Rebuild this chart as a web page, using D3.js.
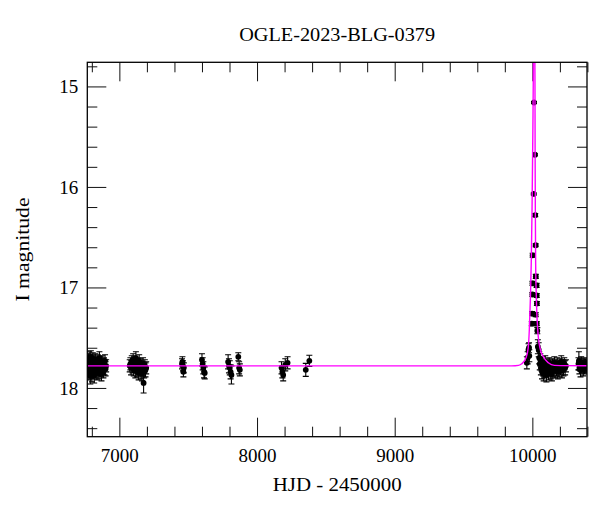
<!DOCTYPE html>
<html><head><meta charset="utf-8">
<script src="https://cdn.jsdelivr.net/npm/d3@7"></script>
<style>html,body{margin:0;padding:0;background:#fff;}svg{display:block;}</style>
</head><body>
<svg id="chart" width="600" height="512"></svg>
<script>
// ---- data (HJD-2450000, I mag, error) ----
const title = "OGLE-2023-BLG-0379";
const xLabel = "HJD - 2450000";
const yLabel = "I magnitude";
const xMajorTicks = [7000, 8000, 9000, 10000];
const yMajorTicks = [15, 16, 17, 18];

const season2014 = [
[6771,17.76,.06],[6773,17.82,.07],[6775,17.72,.06],[6777,17.79,.07],[6779,17.85,.07],[6781,17.70,.06],
[6783,17.77,.06],[6785,17.81,.07],[6787,17.74,.06],[6789,17.88,.08],[6791,17.78,.07],[6793,17.69,.06],
[6795,17.83,.07],[6797,17.75,.06],[6799,17.80,.07],[6801,17.86,.08],[6803,17.73,.06],[6805,17.79,.07],
[6807,17.71,.06],[6809,17.84,.07],[6811,17.77,.06],[6813,17.82,.07],[6815,17.74,.06],[6817,17.87,.08],
[6819,17.76,.06],[6822,17.80,.07],[6825,17.72,.06],[6828,17.83,.07],[6831,17.78,.06],[6834,17.75,.06],
[6837,17.85,.07],[6840,17.79,.07],[6843,17.73,.06],[6846,17.81,.07],[6849,17.76,.06],[6852,17.84,.07],
[6855,17.70,.06],[6858,17.78,.07],[6861,17.82,.07],[6864,17.75,.06],[6867,17.80,.07],[6870,17.86,.07],
[6873,17.74,.06],[6876,17.79,.07],[6880,17.77,.06],[6884,17.83,.07],[6888,17.76,.06],[6892,17.80,.07],
[6896,17.73,.06],[6900,17.81,.07],[6904,17.78,.06]];
const season2015 = [
[7075,17.78,.06],[7080,17.76,.06],[7085,17.80,.07],[7090,17.74,.06],[7095,17.79,.06],[7100,17.72,.06],
[7104,17.81,.07],[7108,17.77,.06],[7112,17.75,.06],[7116,17.83,.07],[7120,17.70,.06],[7124,17.78,.06],
[7128,17.82,.07],[7132,17.76,.06],[7136,17.79,.07],[7140,17.85,.07],[7144,17.73,.06],[7148,17.80,.07],
[7152,17.77,.06],[7156,17.84,.07],[7160,17.79,.06],[7164,17.86,.07],[7168,17.81,.07],[7172,17.76,.06],
[7176,17.95,.10],[7180,17.83,.07],[7185,17.78,.06],[7190,17.82,.07],[7195,17.80,.06]];
const seasons2016to2018 = [
[7455,17.76,.05],[7458,17.74,.05],[7462,17.78,.05],[7465,17.84,.05],[7468,17.80,.05],
[7600,17.72,.06],[7605,17.76,.06],[7610,17.80,.06],[7615,17.84,.06],[7620,17.85,.06],
[7790,17.74,.07],[7796,17.78,.07],[7802,17.80,.07],[7808,17.84,.07],[7814,17.87,.09],
[7864,17.69,.04],[7870,17.80,.06],[7875,17.82,.06],
[8178,17.80,.06],[8184,17.84,.06],[8190,17.87,.06],[8205,17.77,.06],[8222,17.75,.06],
[8354,17.82,.065],[8380,17.73,.055]];
const season2023 = [
[9960,17.75,.06],[9966,17.70,.06],[9972,17.62,.06],[9976,17.60,.05],[9978,17.68,.06],
[9996,17.36,.02],[9998,17.26,.02],[10000,17.07,.02],[10001,16.96,.02],[10002,16.68,.02],
[10010,16.07,.01],[10012,15.16,.01],[10019,15.68,.01],[10021,16.28,.015],[10024,16.58,.015],
[10025,16.89,.02],[10031,16.98,.02],[10032,17.08,.02],[10033,17.16,.02],[10024,17.27,.02],
[10032,17.36,.02],[10036,17.43,.03],
[10040,17.59,.07],[10046,17.62,.07],[10050,17.70,.06],[10054,17.76,.06],[10058,17.72,.06],
[10062,17.80,.07],[10066,17.77,.06],[10070,17.84,.07],[10074,17.75,.06],[10078,17.81,.07],
[10082,17.86,.07],[10086,17.78,.06],[10090,17.83,.07],[10094,17.74,.06],[10098,17.80,.07],
[10102,17.87,.07],[10106,17.77,.06],[10110,17.82,.07],[10114,17.79,.06],[10118,17.85,.07],
[10122,17.76,.06],[10126,17.81,.07],[10130,17.78,.06],[10134,17.84,.07],[10138,17.80,.06],
[10142,17.86,.07],[10146,17.77,.06],[10150,17.82,.07],[10155,17.79,.06],[10160,17.75,.06],
[10165,17.83,.07],[10170,17.78,.06],[10175,17.81,.07],[10180,17.76,.06],[10185,17.84,.07],
[10190,17.79,.06],[10195,17.82,.07],[10200,17.77,.06],[10205,17.80,.07],[10210,17.74,.06],
[10215,17.83,.07],[10220,17.78,.06],[10226,17.81,.07],[10232,17.76,.06],[10238,17.80,.07],
[10244,17.78,.06]];
const season2024 = [
[10335,17.76,.06],[10338,17.73,.09],[10342,17.80,.06],[10346,17.77,.06],[10350,17.82,.07],
[10355,17.75,.06],[10360,17.79,.06],[10365,17.78,.06],[10370,17.81,.07],[10375,17.76,.06],
[10380,17.80,.06],[10385,17.77,.06],[10390,17.79,.06],[10395,17.78,.06]];

// model curve (HJD, mag)
const modelHJD = [6700, 9850, 9900, 9923, 9954, 9970, 9978, 9986, 9992, 9998, 10004, 10007, 10009, 10013,
                  10017, 10019, 10020, 10022, 10024, 10029, 10039, 10055, 10080, 10116, 10160, 10450];
const modelMag = [17.78, 17.78, 17.775, 17.76, 17.70, 17.60, 17.42, 17.10, 16.76, 16.20, 15.40, 14.90, 14.40, 13.90,
                  14.40, 14.90, 15.60, 16.30, 16.76, 17.10, 17.42, 17.60, 17.69, 17.75, 17.775, 17.78];

// ---- layout ----
const L = 87.3, R = 587, T = 62.3, B = 436.7;
const svg = d3.select("#chart");
const x = d3.scaleLinear().domain([6767, 10397]).range([L, R]);
const y = d3.scaleLinear().domain([14.76, 18.485]).range([T, B]);
const font = "'Liberation Serif', 'Times New Roman', serif";

svg.append("defs").append("clipPath").attr("id", "clip")
  .append("rect").attr("x", L).attr("y", T).attr("width", R - L).attr("height", B - T);

const xMinor = d3.range(6800, 10401, 200).filter(v => v % 1000 !== 0);
const yMinor = d3.range(14.8, 18.49, 0.2).map(v => +v.toFixed(1)).filter(v => Math.abs(v - Math.round(v)) > 1e-6);

function styleAxis(g) {
  g.select(".domain").remove();
  g.selectAll(".tick line").attr("stroke", "#111").attr("stroke-width", 1);
  g.selectAll("text").attr("font-family", font).attr("font-size", 19).attr("fill", "#000");
}
// bottom
svg.append("g").attr("transform", `translate(0,${B})`)
  .call(d3.axisBottom(x).tickValues(xMajorTicks).tickSize(-19).tickPadding(12).tickFormat(d3.format("d")))
  .call(styleAxis);
svg.append("g").attr("transform", `translate(0,${B})`)
  .call(d3.axisBottom(x).tickValues(xMinor).tickSize(-10).tickFormat("")).call(styleAxis);
// top
svg.append("g").attr("transform", `translate(0,${T})`)
  .call(d3.axisTop(x).tickValues(xMajorTicks).tickSize(-19).tickFormat("")).call(styleAxis);
svg.append("g").attr("transform", `translate(0,${T})`)
  .call(d3.axisTop(x).tickValues(xMinor).tickSize(-10).tickFormat("")).call(styleAxis);
// left
svg.append("g").attr("transform", `translate(${L},0)`)
  .call(d3.axisLeft(y).tickValues(yMajorTicks).tickSize(-19).tickPadding(9).tickFormat(d3.format("d")))
  .call(styleAxis);
svg.append("g").attr("transform", `translate(${L},0)`)
  .call(d3.axisLeft(y).tickValues(yMinor).tickSize(-10).tickFormat("")).call(styleAxis);
// right
svg.append("g").attr("transform", `translate(${R},0)`)
  .call(d3.axisRight(y).tickValues(yMajorTicks).tickSize(-19).tickFormat("")).call(styleAxis);
svg.append("g").attr("transform", `translate(${R},0)`)
  .call(d3.axisRight(y).tickValues(yMinor).tickSize(-10).tickFormat("")).call(styleAxis);

// data
const obs = [].concat(season2014, season2015, seasons2016to2018, season2023, season2024)
  .map(d => ({t: d[0], m: d[1], e: d[2]}));
const plot = svg.append("g").attr("clip-path", "url(#clip)");
const eb = plot.append("g").attr("stroke", "#000").attr("stroke-width", 1.1);
obs.forEach(d => {
  const cx = x(d.t), y1 = y(d.m - d.e), y2 = y(d.m + d.e);
  eb.append("line").attr("x1", cx).attr("x2", cx).attr("y1", y1).attr("y2", y2);
  eb.append("line").attr("x1", cx - 3).attr("x2", cx + 3).attr("y1", y1).attr("y2", y1);
  eb.append("line").attr("x1", cx - 3).attr("x2", cx + 3).attr("y1", y2).attr("y2", y2);
});
plot.append("g").selectAll("circle").data(obs).join("circle")
  .attr("cx", d => x(d.t)).attr("cy", d => y(d.m)).attr("r", 2.9).attr("fill", "#000");

// model
const model = modelHJD.map((t, i) => [t, modelMag[i]]);
plot.append("path").datum(model)
  .attr("fill", "none").attr("stroke", "#ff00ff").attr("stroke-width", 1.4)
  .attr("d", d3.line().x(d => x(d[0])).y(d => y(d[1])).curve(d3.curveMonotoneX));

// frame
svg.append("rect").attr("x", L).attr("y", T).attr("width", R - L).attr("height", B - T)
  .attr("fill", "none").attr("stroke", "#000").attr("stroke-width", 1.3);

// texts
svg.append("text").attr("x", (L + R) / 2).attr("y", 41).attr("text-anchor", "middle")
  .attr("font-family", font).attr("font-size", 19).attr("textLength", 196).attr("lengthAdjust", "spacingAndGlyphs")
  .text(title);
svg.append("text").attr("x", (L + R) / 2).attr("y", 491).attr("text-anchor", "middle")
  .attr("font-family", font).attr("font-size", 19).attr("textLength", 129).attr("lengthAdjust", "spacingAndGlyphs")
  .text(xLabel);
svg.append("text").attr("transform", `translate(28.5,${(T + B) / 2}) rotate(-90)`).attr("text-anchor", "middle")
  .attr("font-family", font).attr("font-size", 19).attr("textLength", 104).attr("lengthAdjust", "spacingAndGlyphs")
  .text(yLabel);
</script>
</body></html>
